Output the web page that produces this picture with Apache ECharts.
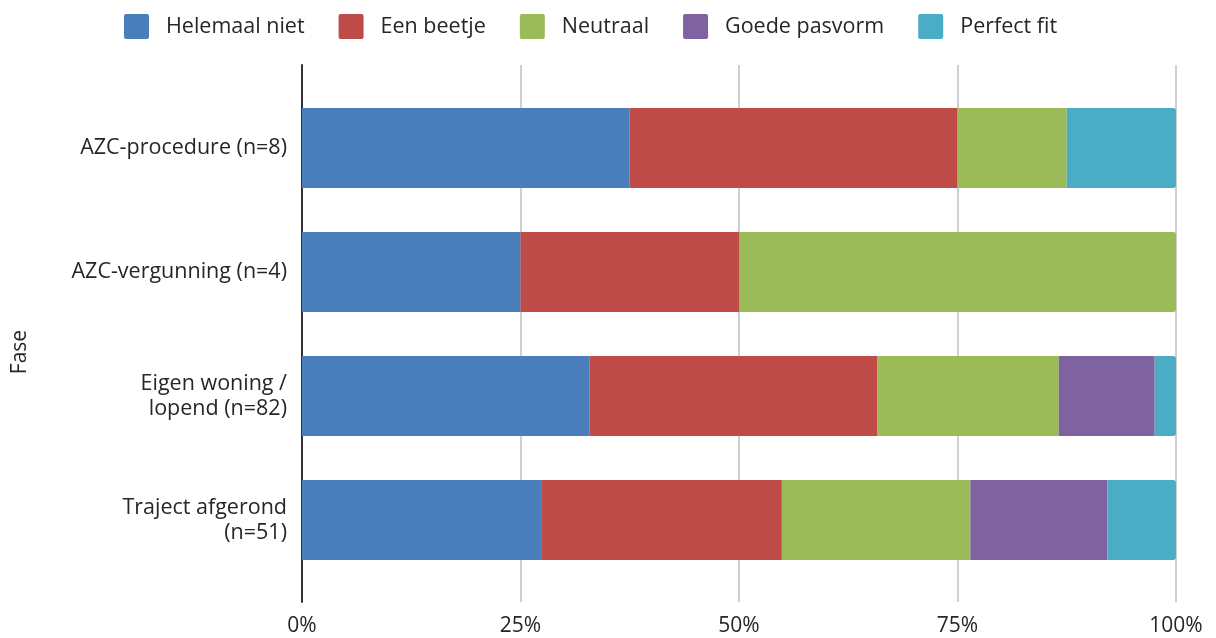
<!DOCTYPE html>
<html>
<head>
<meta charset="utf-8">
<script src="https://cdn.jsdelivr.net/npm/echarts@6/dist/echarts.min.js"></script>
<style>
  html, body { margin: 0; padding: 0; background: #ffffff; }
  #chart { width: 1216px; height: 638px; }
</style>
</head>
<body>
<div id="chart"></div>
<script>
// Phases (y axis), top to bottom
const categories = [
  'AZC-procedure (n=8)',
  'AZC-vergunning (n=4)',
  'Eigen woning /\nlopend (n=82)',
  'Traject afgerond\n(n=51)'
];
// Number of respondents per phase
const groupSize = [8, 4, 82, 51];

// Answer counts per phase
const helemaalNiet = [3, 1, 27, 14];
const eenBeetje    = [3, 1, 27, 14];
const neutraal     = [1, 2, 17, 11];
const goedePasvorm = [0, 0, 9, 8];
const perfectFit   = [1, 0, 2, 4];

const seriesNames  = ['Helemaal niet', 'Een beetje', 'Neutraal', 'Goede pasvorm', 'Perfect fit'];
const seriesCounts = [helemaalNiet, eenBeetje, neutraal, goedePasvorm, perfectFit];
const seriesColors = ['#4a7ebb', '#be4b48', '#9bbb59', '#7f63a1', '#4bacc6'];

// X axis ticks (percent)
const xTicks = [0, 25, 50, 75, 100];

const FONT = '"Open Sans", "Noto Sans", sans-serif';
const TEXT = '#262626';

// square legend swatch with slightly softened corners
const SWATCH = 'path://M2,0H23A2,2 0 0 1 25,2V23A2,2 0 0 1 23,25H2A2,2 0 0 1 0,23V2A2,2 0 0 1 2,0Z';

// index of the last non-empty segment in each row, to round its outer end
const lastSeg = categories.map((_, c) => {
  let last = -1;
  seriesCounts.forEach((arr, s) => { if (arr[c] > 0) last = s; });
  return last;
});

const series = seriesNames.map((name, s) => ({
  name: name,
  type: 'bar',
  stack: 'total',
  xAxisIndex: 0,
  yAxisIndex: 0,
  barCategoryGap: '35.5%',
  itemStyle: { color: seriesColors[s] },
  emphasis: { disabled: true },
  data: seriesCounts[s].map((v, c) => ({
    value: v / groupSize[c] * 100,
    itemStyle: lastSeg[c] === s ? { borderRadius: [0, 3, 3, 0] } : undefined
  }))
}));

const chart = echarts.init(document.getElementById('chart'), null, { renderer: 'canvas' });
chart.setOption({
  animation: false,
  textStyle: { fontFamily: FONT, color: TEXT },
  legend: {
    top: 9,
    left: 119,
    itemWidth: 25,
    itemHeight: 25,
    itemGap: 34,
    icon: SWATCH,
    textStyle: { fontSize: 21.5, color: TEXT, fontFamily: FONT, padding: [0, 0, 0, 12] },
    data: seriesNames
  },
  grid: [
    // bars
    { left: 302, right: 40, top: 86, bottom: 56, outerBoundsMode: 'none', containLabel: false },
    // axis frame and gridlines
    { left: 302, right: 40, top: 65, bottom: 36, outerBoundsMode: 'none', containLabel: false }
  ],
  xAxis: [
    { gridIndex: 0, type: 'value', min: 0, max: 100, interval: 25, show: false },
    {
      gridIndex: 1, type: 'value', min: xTicks[0], max: xTicks[xTicks.length - 1], interval: 25,
      axisLine: { show: false },
      axisTick: { show: false },
      splitLine: { show: true, lineStyle: { color: '#d0d0d0', width: 2 } },
      axisLabel: { formatter: '{value}%', fontSize: 21, color: TEXT, fontFamily: FONT, margin: 14 }
    }
  ],
  yAxis: [
    {
      gridIndex: 0, type: 'category', inverse: true, data: categories,
      axisLine: { show: false },
      axisTick: { show: false },
      axisLabel: { fontSize: 21.5, color: TEXT, fontFamily: FONT, lineHeight: 25, align: 'right', margin: 15 }
    },
    {
      gridIndex: 1, type: 'value', min: 0, max: 1,
      axisLine: { show: true, lineStyle: { color: '#333333', width: 2 } },
      axisTick: { show: false },
      axisLabel: { show: false },
      splitLine: { show: false },
      name: 'Fase',
      nameLocation: 'middle',
      nameGap: 271,
      nameRotate: 90,
      nameTextStyle: { fontSize: 21, color: TEXT, fontFamily: FONT, padding: [0, 37, 0, 0] }
    }
  ],
  series: series
});
</script>
</body>
</html>
